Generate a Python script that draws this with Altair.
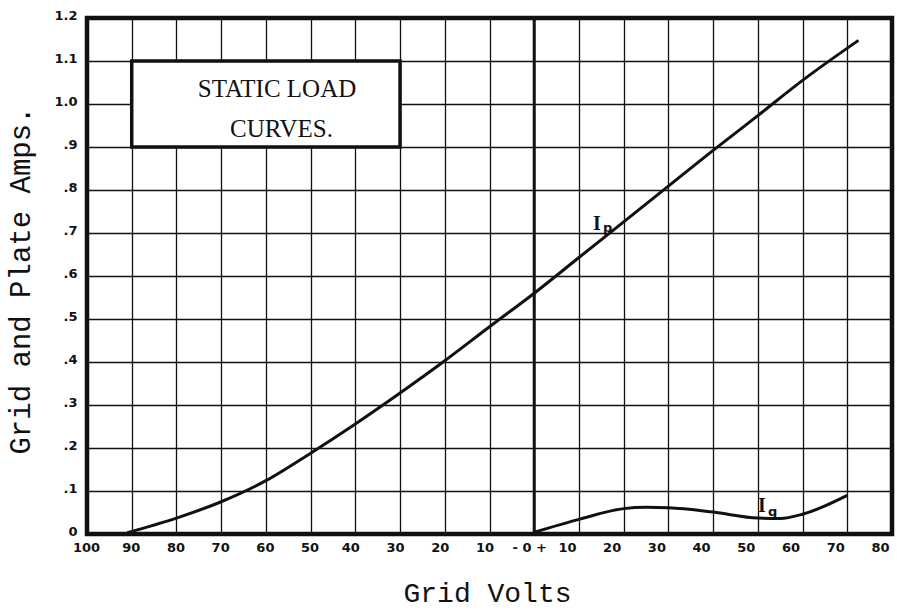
import altair as alt
import pandas as pd

# Plate current Ip (amps) against grid volts
ip_volts = [-91, -80, -70, -60, -50, -40, -30, -20, -10, 0, 10, 20, 30, 40, 50, 60, 72.5]
ip_amps = [0.003, 0.037, 0.075, 0.124, 0.188, 0.256, 0.328, 0.403, 0.482, 0.56,
           0.643, 0.726, 0.809, 0.892, 0.973, 1.055, 1.148]

# Grid current Ig (amps) against positive grid volts
ig_volts = [0, 10, 20, 25, 30, 40, 50, 55, 60, 70]
ig_amps = [0.004, 0.034, 0.059, 0.062, 0.061, 0.051, 0.037, 0.036, 0.046, 0.09]

x_ticks = list(range(-100, 81, 10))
y_ticks = [round(i * 0.1, 1) for i in range(13)]

INK = "#111111"

x_scale = alt.Scale(domain=[-100, 80], nice=False, zero=False)
y_scale = alt.Scale(domain=[0, 1.2], nice=False, zero=False)

x_axis = alt.Axis(
    values=x_ticks, grid=True, gridColor=INK, gridWidth=1.3, gridOpacity=1,
    ticks=False, domain=False, labelOverlap=False, labelBound=False, labelFlush=False,
    labelExpr="datum.value == 0 ? '-  0  +' : format(abs(datum.value), 'd')",
    labelOffset={
        "condition": [
            {"test": "datum.value > 0", "value": -12},
            {"test": "datum.value > -45", "value": -5},
        ],
        "value": -1,
    },
    labelFont="DejaVu Sans", labelFontWeight="bold", labelFontSize=13,
    labelColor=INK, labelPadding=7,
    title="Grid Volts", titleFont="Liberation Mono", titleFontSize=28,
    titleFontWeight="normal", titleColor=INK, titleX=400, titleY=59,
    titleAlign="center", titleBaseline="middle",
)
y_axis = alt.Axis(
    values=y_ticks, grid=True, gridColor=INK, gridWidth=1.3, gridOpacity=1,
    ticks=False, domain=False, labelOverlap=False, labelBound=False, labelFlush=False,
    labelExpr="datum.value == 0 ? '0' : (datum.value < 1 ? '.' + format(datum.value * 10, '.0f') : format(datum.value, '.1f'))",
    labelFont="DejaVu Sans", labelFontWeight="bold", labelFontSize=13,
    labelColor=INK, labelPadding=10, labelOffset=-3,
    title="Grid and Plate Amps.", titleFont="Liberation Mono", titleFontSize=29,
    titleFontWeight="normal", titleColor=INK, titleX=-67, titleY=262,
    titleAlign="center", titleBaseline="middle", titleAngle=-90,
)

X = alt.X("v:Q", scale=x_scale, axis=x_axis)
Y = alt.Y("a:Q", scale=y_scale, axis=y_axis)

ip_df = pd.DataFrame({"v": ip_volts, "a": ip_amps})
ig_df = pd.DataFrame({"v": ig_volts, "a": ig_amps})

# Heavy vertical line at zero grid volts
zero_line = alt.Chart(pd.DataFrame({"v": [0]})).mark_rule(
    color=INK, strokeWidth=3
).encode(x=X)

# Title box
box_df = pd.DataFrame({"v": [-90], "v2": [-30], "a": [0.9], "a2": [1.1]})
box = alt.Chart(box_df).mark_rect(
    fill="white", stroke=INK, strokeWidth=3.5
).encode(x=X, x2="v2:Q", y=Y, y2="a2:Q")

box_text_df = pd.DataFrame({
    "v": [-57.5, -56.5],
    "a": [1.035, 0.943],
    "t": ["STATIC LOAD", "CURVES."],
})
box_text = alt.Chart(box_text_df).mark_text(
    font="Liberation Serif", fontSize=25, color=INK
).encode(x=X, y=Y, text="t:N")

ip_line = alt.Chart(ip_df).mark_line(
    color=INK, strokeWidth=3, interpolate="monotone"
).encode(x=X, y=Y)
ig_line = alt.Chart(ig_df).mark_line(
    color=INK, strokeWidth=3, interpolate="monotone"
).encode(x=X, y=Y)

# Curve labels: capital I with a subscript letter
cap_df = pd.DataFrame({"v": [14.0, 50.9], "a": [0.72, 0.064], "t": ["I", "I"]})
sub_df = pd.DataFrame({"v": [16.4, 53.3], "a": [0.712, 0.052], "t": ["p", "g"]})
caps = alt.Chart(cap_df).mark_text(
    font="Liberation Serif", fontWeight="bold", fontSize=20, color=INK
).encode(x=X, y=Y, text="t:N")
subs = alt.Chart(sub_df).mark_text(
    font="DejaVu Sans", fontWeight="bold", fontSize=13, color=INK
).encode(x=X, y=Y, text="t:N")

chart = alt.layer(
    zero_line, box, box_text, ip_line, ig_line, caps, subs
).properties(
    width=805, height=516,
    padding={"left": 87, "top": 18, "right": 5, "bottom": 77},
    autosize="none", background="white",
).configure_view(
    stroke=INK, strokeWidth=4.5
)

chart.save("out.html", embed_options={"renderer": "svg", "actions": False})
